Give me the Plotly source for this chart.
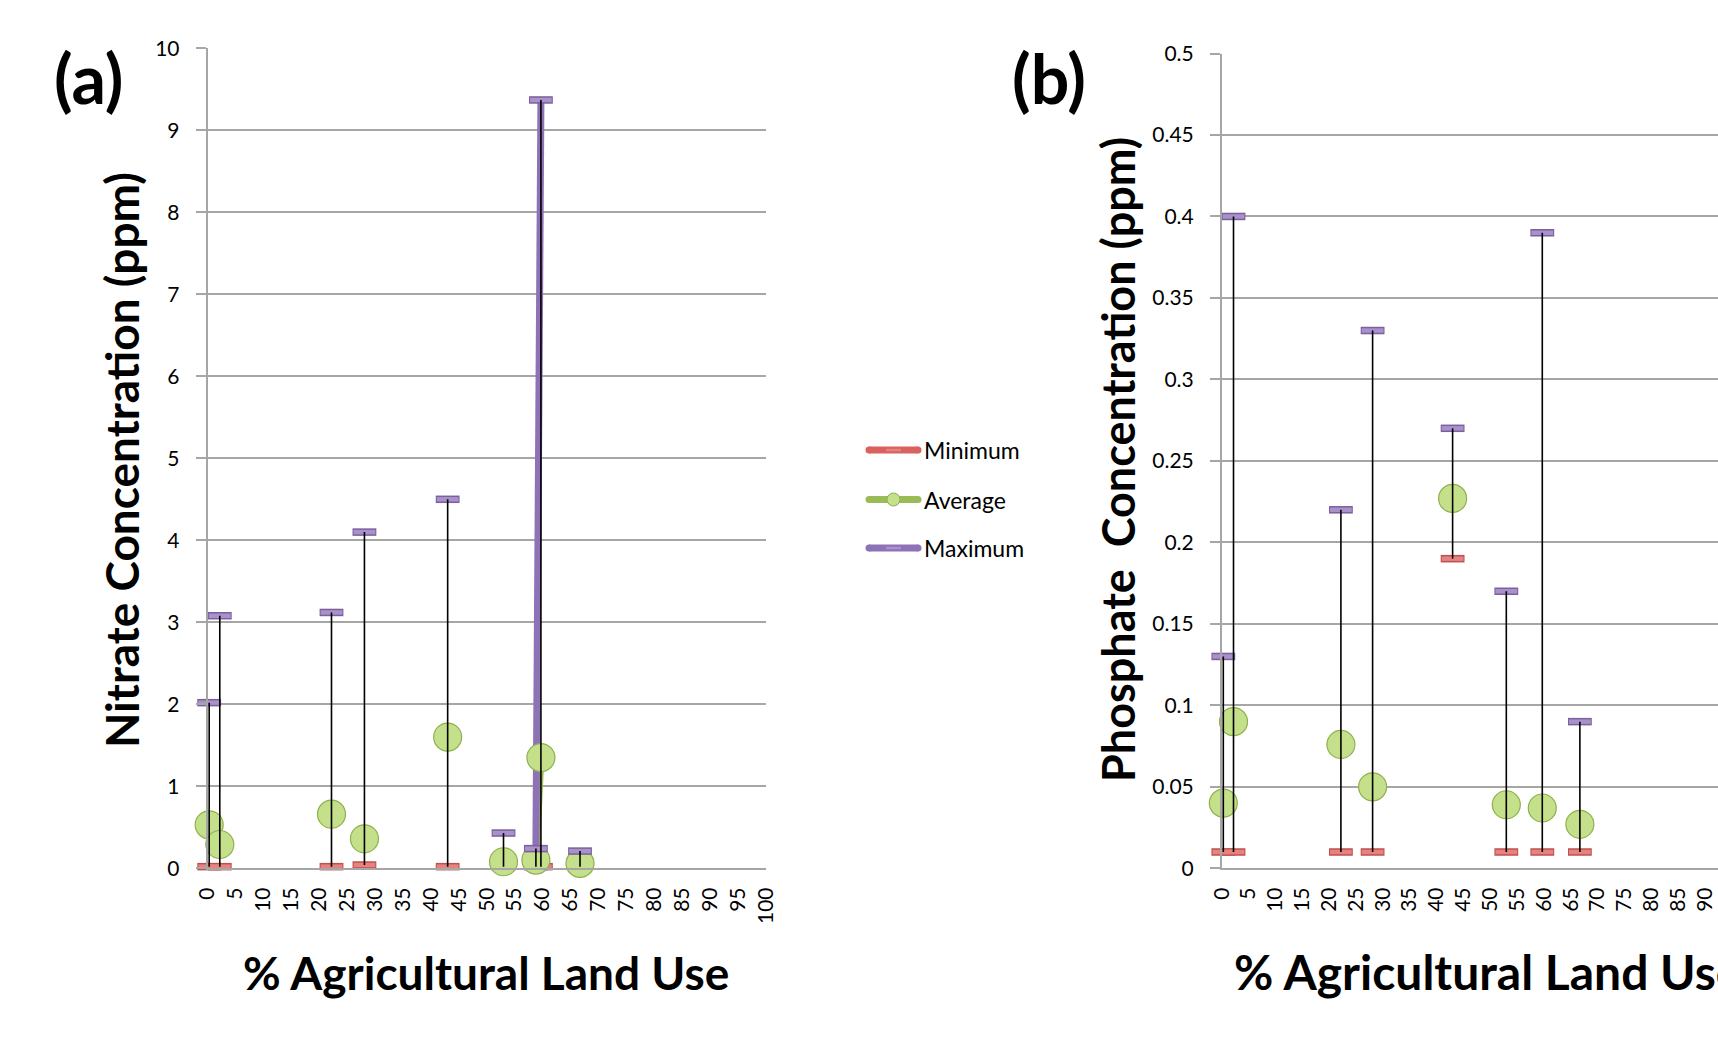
import plotly.graph_objects as go

# ---------------- data ----------------
# panel (a): nitrate
ag_use_a = [0.3, 2.2, 22.2, 28.1, 43.0, 53.0, 58.8, 59.7, 66.7]
nitrate_min = [0.02, 0.02, 0.02, 0.04, 0.02, 0.02, 0.02, 0.02, 0.02]
nitrate_avg = [0.53, 0.29, 0.66, 0.36, 1.60, 0.08, 0.10, 1.35, 0.06]
nitrate_max = [2.02, 3.08, 3.12, 4.10, 4.50, 0.43, 0.24, 9.37, 0.21]

# panel (b): phosphate
ag_use_b = [0.3, 2.2, 22.2, 28.1, 43.0, 53.0, 59.7, 66.7]
phosphate_min = [0.01, 0.01, 0.01, 0.01, 0.19, 0.01, 0.01, 0.01]
phosphate_avg = [0.040, 0.090, 0.076, 0.050, 0.227, 0.039, 0.037, 0.027]
phosphate_max = [0.13, 0.40, 0.22, 0.33, 0.27, 0.17, 0.39, 0.09]

x_ticks = list(range(0, 101, 5))
y_ticks_a = list(range(0, 11))
y_ticks_b = [0, 0.05, 0.1, 0.15, 0.2, 0.25, 0.3, 0.35, 0.4, 0.45, 0.5]
y_ticktext_b = ["0", "0.05", "0.1", "0.15", "0.2", "0.25", "0.3", "0.35", "0.4", "0.45", "0.5"]

series_names = ["Minimum", "Average", "Maximum"]

# ---------------- style ----------------
W, H = 1718, 1038
FONT = "Lato, 'Open Sans', sans-serif"
GRID = "#A6A6A6"
RED_D, RED_L = "#C0504D", "#E58380"
GRN_D, GRN_L = "#8FB04E", "#C5E08A"
PUR_D, PUR_L = "#7B5F9E", "#A892C9"
LINE_COLORS = {"Minimum": "#D9625E", "Average": "#9BBB59", "Maximum": "#8E72B6"}


def fx(p):
    return p / W


def fy(p):
    return 1 - p / H


def gapped(xs, ys):
    """Lines only join adjacent rows (x step <= 1), like blank rows in the sheet."""
    gx, gy = [], []
    for i, (x, y) in enumerate(zip(xs, ys)):
        if i > 0 and x - xs[i - 1] > 1:
            gx.append(None)
            gy.append(None)
        gx.append(x)
        gy.append(y)
    return gx, gy


fig = go.Figure()


def add_panel(xs, mins, avgs, maxs, xa, ya):
    # series lines (only visible between adjacent rows)
    for name, vals in zip(series_names, [mins, avgs, maxs]):
        gx, gy = gapped(xs, vals)
        fig.add_trace(go.Scatter(x=gx, y=gy, mode="lines", xaxis=xa, yaxis=ya,
                                 line=dict(color=LINE_COLORS[name], width=7),
                                 connectgaps=False, showlegend=False, hoverinfo="skip",
                                 cliponaxis=False))
    # minimum markers (dash bars)
    fig.add_trace(go.Scatter(x=xs, y=mins, mode="markers", xaxis=xa, yaxis=ya, showlegend=False,
                             cliponaxis=False, name="Minimum",
                             marker=dict(symbol="line-ew", size=17, line=dict(color=RED_D, width=7.5))))
    fig.add_trace(go.Scatter(x=xs, y=mins, mode="markers", xaxis=xa, yaxis=ya, showlegend=False,
                             cliponaxis=False, hoverinfo="skip",
                             marker=dict(symbol="line-ew", size=15.5, line=dict(color=RED_L, width=4.5))))
    # average markers (circles)
    fig.add_trace(go.Scatter(x=xs, y=avgs, mode="markers", xaxis=xa, yaxis=ya, showlegend=False,
                             cliponaxis=False, name="Average",
                             marker=dict(symbol="circle", size=28, color=GRN_L,
                                         line=dict(color=GRN_D, width=1.2))))
    # maximum markers (dash bars)
    fig.add_trace(go.Scatter(x=xs, y=maxs, mode="markers", xaxis=xa, yaxis=ya, showlegend=False,
                             cliponaxis=False, name="Maximum",
                             marker=dict(symbol="line-ew", size=17, line=dict(color=PUR_D, width=7.5))))
    fig.add_trace(go.Scatter(x=xs, y=maxs, mode="markers", xaxis=xa, yaxis=ya, showlegend=False,
                             cliponaxis=False, hoverinfo="skip",
                             marker=dict(symbol="line-ew", size=15.5, line=dict(color=PUR_L, width=4.5))))
    # high-low lines
    hx, hy = [], []
    for x, lo, hi in zip(xs, mins, maxs):
        hx += [x, x, None]
        hy += [lo, hi, None]
    fig.add_trace(go.Scatter(x=hx, y=hy, mode="lines", xaxis=xa, yaxis=ya, showlegend=False,
                             hoverinfo="skip", cliponaxis=False,
                             line=dict(color="black", width=1.6)))


add_panel(ag_use_a, nitrate_min, nitrate_avg, nitrate_max, "x", "y")
add_panel(ag_use_b, phosphate_min, phosphate_avg, phosphate_max, "x2", "y2")

x_px_per_unit_b = 5.37
a_left, a_right, a_top, a_bot = 207.5, 766, 48.3, 868.3
b_left, b_top, b_bot = 1221.7, 53.5, 868.3

common_x = dict(tickvals=x_ticks, ticktext=[str(t) for t in x_ticks], tickangle=-90,
                showgrid=False, showline=True, linecolor=GRID, linewidth=1.5, ticks="",
                zeroline=False, automargin=False, ticklabelstandoff=9,
                tickfont=dict(family=FONT, size=21, color="black"))
common_y = dict(showgrid=True, gridcolor=GRID, gridwidth=1.5, showline=True, linecolor=GRID,
                linewidth=1.5, ticks="outside", ticklen=10, tickcolor=GRID, tickwidth=1.5,
                zeroline=False, ticklabelstandoff=12, automargin=False,
                tickfont=dict(family=FONT, size=21, color="black"))

fig.update_layout(
    template="none",
    width=W, height=H, margin=dict(l=0, r=0, t=0, b=0, pad=0, autoexpand=False),
    paper_bgcolor="white", plot_bgcolor="white", showlegend=False,
    xaxis=dict(domain=[fx(a_left), fx(a_right)], range=[0, 100], anchor="y", **common_x),
    yaxis=dict(domain=[fy(a_bot), fy(a_top)], range=[0, 10], anchor="x",
               tickvals=y_ticks_a, ticktext=[str(t) for t in y_ticks_a], **common_y),
    xaxis2=dict(domain=[fx(b_left), 1.0], range=[0, (W - b_left) / x_px_per_unit_b],
                anchor="y2", **common_x),
    yaxis2=dict(domain=[fy(b_bot), fy(b_top)], range=[0, 0.5], anchor="x2",
                tickvals=y_ticks_b, ticktext=y_ticktext_b, **common_y),
)

ann = []
title_font = dict(family=FONT, size=46, color="black", weight="bold")
panel_font = dict(family=FONT, size=68, color="black", weight="bold")
ann.append(dict(text="(a)", x=fx(88), y=fy(77), xref="paper", yref="paper", showarrow=False,
                xanchor="center", yanchor="middle", font=panel_font))
ann.append(dict(text="(b)", x=fx(1049), y=fy(77), xref="paper", yref="paper", showarrow=False,
                xanchor="center", yanchor="middle", font=panel_font))
ann.append(dict(text="Nitrate Concentration (ppm)", x=fx(121), y=fy(460), xref="paper", yref="paper",
                showarrow=False, textangle=-90, xanchor="center", yanchor="middle", font=title_font))
ann.append(dict(text="Phosphate\u00a0 Concentration (ppm)", x=fx(1118), y=fy(460), xref="paper",
                yref="paper", showarrow=False, textangle=-90, xanchor="center", yanchor="middle",
                font=dict(family=FONT, size=45, color="black", weight="bold")))
ann.append(dict(text="% Agricultural Land Use", x=fx(486), y=fy(972), xref="paper", yref="paper",
                showarrow=False, xanchor="center", yanchor="middle", font=title_font))
ann.append(dict(text="% Agricultural Land Use", x=fx(1487), y=fy(971), xref="paper", yref="paper",
                showarrow=False, xanchor="center", yanchor="middle",
                font=dict(family=FONT, size=48, color="black", weight="bold")))

# manual legend
shapes = []
leg_y = {"Minimum": 450, "Average": 499.5, "Maximum": 548}
for name in series_names:
    yy = fy(leg_y[name])
    shapes.append(dict(type="line", xref="paper", yref="paper", x0=fx(869), x1=fx(918), y0=yy, y1=yy,
                       line=dict(color=LINE_COLORS[name], width=7), layer="above"))
    for cx in (869, 918):
        shapes.append(dict(type="circle", xref="paper", yref="paper", xsizemode="pixel",
                           ysizemode="pixel", xanchor=fx(cx), yanchor=yy, x0=-3.5, x1=3.5, y0=-3.5, y1=3.5,
                           fillcolor=LINE_COLORS[name], line=dict(width=0), layer="above"))
    if name == "Average":
        shapes.append(dict(type="circle", xref="paper", yref="paper", xsizemode="pixel",
                           ysizemode="pixel", xanchor=fx(893.5), yanchor=yy, x0=-6.5, x1=6.5, y0=-6.5,
                           y1=6.5, fillcolor=GRN_L, line=dict(color=GRN_D, width=1), layer="above"))
    else:
        light = RED_L if name == "Minimum" else PUR_L
        shapes.append(dict(type="line", xref="paper", yref="paper", x0=fx(886), x1=fx(901), y0=yy, y1=yy,
                           line=dict(color=light, width=2.5), layer="above"))
    ann.append(dict(text=name, x=fx(922), y=yy, xref="paper", yref="paper", showarrow=False,
                    xanchor="left", yanchor="middle",
                    font=dict(family=FONT, size=23, color="black")))

fig.update_layout(annotations=ann, shapes=shapes)
fig.write_html("out.html", config={"displayModeBar": False},
               post_script="document.body.style.margin='0';document.body.style.overflow='hidden';")
